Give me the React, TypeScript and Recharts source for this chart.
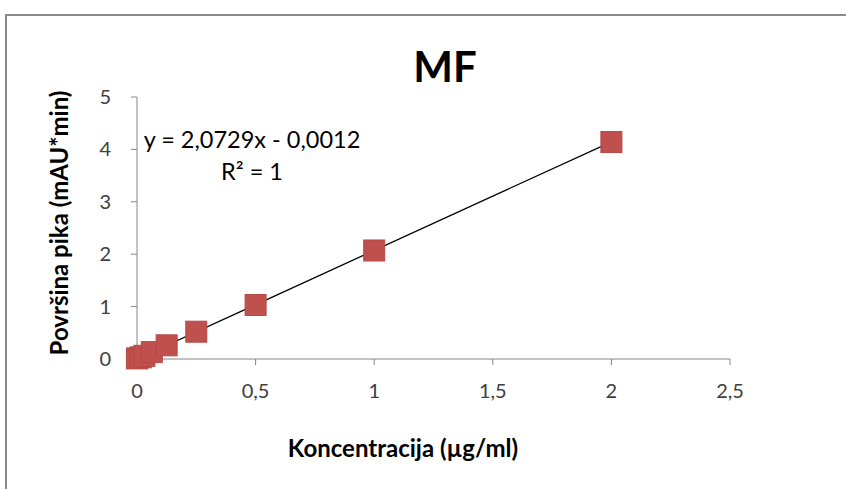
import { ScatterChart, Scatter, XAxis, YAxis, Label } from 'recharts';

// calibration points
const concentration = [0, 0.015625, 0.03125, 0.0625, 0.125, 0.25, 0.5, 1, 2];
const peakArea = [0.01, 0.03, 0.06, 0.13, 0.26, 0.52, 1.03, 2.07, 4.14];

// linear trendline end points
const trendX = [0, 2];
const trendY = [-0.0012, 4.1446];

const xTicks = [0, 0.5, 1, 1.5, 2, 2.5];
const yTicks = [0, 1, 2, 3, 4, 5];

const points = concentration.map((x, i) => ({ x, y: peakArea[i] }));
const trend = trendX.map((x, i) => ({ x, y: trendY[i] }));

const FONT = 'Lato, "Open Sans", sans-serif';
const comma = (v: number) => String(v).replace('.', ',');

const Square = (p: any) => (
  <rect x={p.cx - 10.5} y={p.cy - 10.5} width={21} height={21} fill="#C0504D" stroke="#B54845" strokeWidth={1} />
);

export default function App() {
  return (
    <div style={{ position: 'absolute', left: 0, top: 0, width: 846, height: 489, background: '#fff', overflow: 'hidden', fontFamily: FONT }}>
      <div style={{ position: 'absolute', left: 5, top: 14, width: 900, height: 600, border: '2px solid #8a8a8a' }} />
      <div style={{ position: 'absolute', left: 0, width: 890, top: 41, textAlign: 'center', fontSize: 42, fontWeight: 700, color: '#000' }}>MF</div>
      <div style={{ position: 'absolute', left: 102, top: 123, width: 300, textAlign: 'center', fontSize: 23.5, lineHeight: '32px', color: '#000' }}>
        y = 2,0729x - 0,0012<br />R² = 1
      </div>
      <ScatterChart width={846} height={489} margin={{ top: 97, right: 116, bottom: 100, left: 97 }} style={{ position: 'absolute', left: 0, top: 0 }}>
        <XAxis
          type="number"
          dataKey="x"
          domain={[0, 2.5]}
          ticks={xTicks}
          tickFormatter={comma}
          height={30}
          stroke="#868686"
          tickSize={6}
          tickMargin={19}
          tick={{ fill: '#404040', fontSize: 20, fontFamily: FONT }}
        >
          <Label
            content={() => (
              <text x={403} y={457} textAnchor="middle" fontSize={24} fontWeight={700} fill="#000" fontFamily={FONT}>
                Koncentracija (µg/ml)
              </text>
            )}
          />
        </XAxis>
        <YAxis
          type="number"
          dataKey="y"
          domain={[0, 5]}
          ticks={yTicks}
          width={40}
          stroke="#868686"
          tickSize={6}
          tickMargin={20}
          tick={{ fill: '#404040', fontSize: 20, fontFamily: FONT }}
        >
          <Label
            content={() => (
              <text x={68} y={223} transform="rotate(-90 68 223)" textAnchor="middle" fontSize={24} fontWeight={700} fill="#000" fontFamily={FONT}>
                Površina pika (mAU*min)
              </text>
            )}
          />
        </YAxis>
        <Scatter data={trend} line={{ stroke: '#000', strokeWidth: 1.3 }} shape={() => <g />} isAnimationActive={false} />
        <Scatter data={points} shape={Square} isAnimationActive={false} />
      </ScatterChart>
    </div>
  );
}
